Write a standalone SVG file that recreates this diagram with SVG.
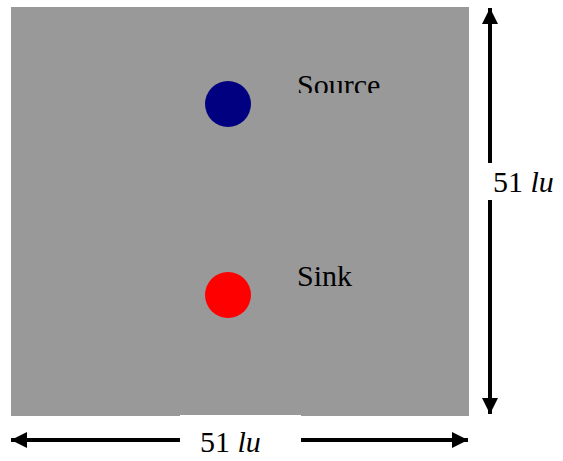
<svg xmlns="http://www.w3.org/2000/svg" width="563" height="461" viewBox="0 0 563 461">
<style>
.lbl{font-family:"Liberation Serif","Times New Roman",serif;font-size:30px;fill:#000}
.dim{stroke:#000;stroke-width:4;fill:none}
</style>
<defs>
<marker id="ah" viewBox="0 0 10 10" refX="10" refY="5" markerWidth="4.5" markerHeight="4" orient="auto" markerUnits="strokeWidth">
<path d="M0,0 L10,5 L0,10 Z" fill="#000"/>
</marker>
<clipPath id="cs"><rect x="290" y="60" width="110" height="33"/></clipPath>
<clipPath id="ck"><rect x="290" y="255" width="110" height="33"/></clipPath>
</defs>
<rect id="domain" x="11" y="7" width="458" height="409" fill="#999999"/>
<g id="source">
<circle cx="228" cy="104" r="23" fill="#000080"/>
<text class="lbl" x="297" y="95" clip-path="url(#cs)">Source</text>
</g>
<g id="sink">
<circle cx="228" cy="295" r="23" fill="#ff0000"/>
<text class="lbl" x="297" y="286" clip-path="url(#ck)">Sink</text>
</g>
<g id="connectors">
<line class="dim" x1="490" y1="163" x2="490" y2="8" marker-end="url(#ah)"/>
<line class="dim" x1="490" y1="200" x2="490" y2="414" marker-end="url(#ah)"/>
<rect x="180" y="415" width="121" height="46" fill="#fff"/>
<line class="dim" x1="180" y1="440" x2="11" y2="440" marker-end="url(#ah)"/>
<line class="dim" x1="301" y1="440" x2="468" y2="440" marker-end="url(#ah)"/>
</g>
<g id="labels">
<text class="lbl" x="493" y="192">51 <tspan font-style="italic">lu</tspan></text>
<text class="lbl" x="200" y="452">51 <tspan font-style="italic">lu</tspan></text>
</g>
</svg>
